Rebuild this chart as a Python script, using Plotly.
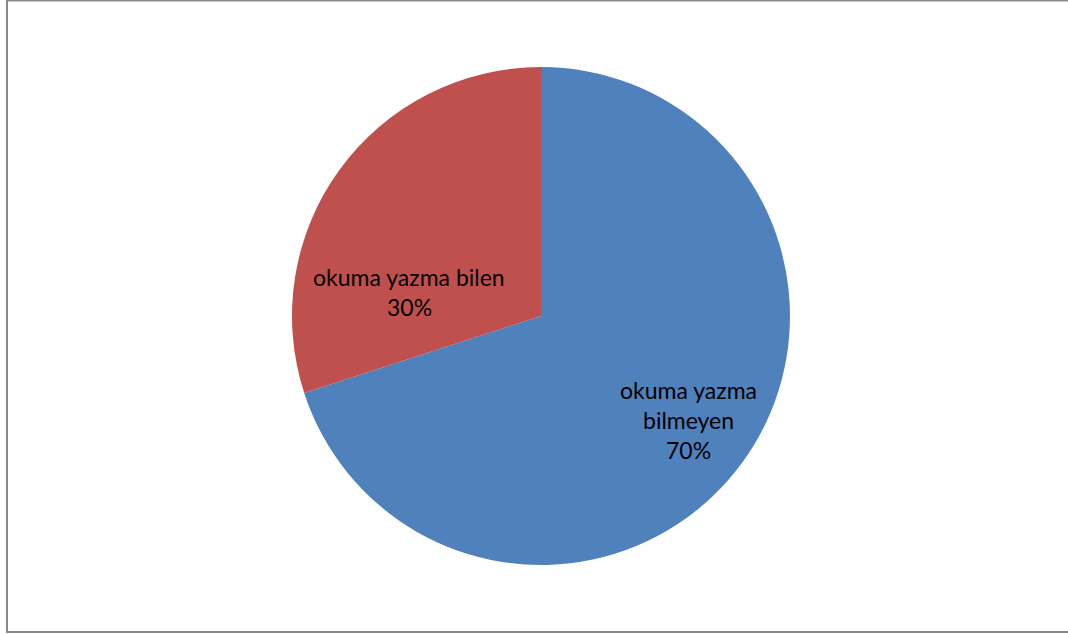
import plotly.graph_objects as go

# Literacy share
labels = ["okuma yazma bilmeyen", "okuma yazma bilen"]
values = [70, 30]
colors = ["#4F81BD", "#C0504D"]

# label lines per slice (wrapped as drawn) and their anchor centres in pixels
label_lines = [["okuma yazma", "bilmeyen"], ["okuma yazma bilen"]]
label_centres = [(688, 390), (409, 277)]
LINE_STEP = 30

W, H = 1068, 634
cx, cy, r = 541, 316, 249

fig = go.Figure(
    go.Pie(
        labels=labels,
        values=values,
        marker=dict(colors=colors, line=dict(width=0)),
        sort=False,
        direction="counterclockwise",
        rotation=0,
        textinfo="none",
        hoverinfo="label+percent",
        showlegend=False,
        domain=dict(x=[(cx - r) / W, (cx + r) / W], y=[1 - (cy + r) / H, 1 - (cy - r) / H]),
    )
)

total = sum(values)
annotations = []
for lines, v, (lx, ly) in zip(label_lines, values, label_centres):
    rows = lines + [f"{round(100 * v / total)}%"]
    for i, row in enumerate(rows):
        annotations.append(
            dict(
                x=lx / W,
                y=1 - (ly + i * LINE_STEP) / H,
                xref="paper",
                yref="paper",
                text=row,
                showarrow=False,
                xanchor="center",
                yanchor="middle",
                font=dict(family="Lato", size=23, color="#000000"),
            )
        )

fig.update_layout(
    width=W,
    height=H,
    margin=dict(l=0, r=0, t=0, b=0),
    paper_bgcolor="#FFFFFF",
    plot_bgcolor="#FFFFFF",
    annotations=annotations,
    shapes=[
        dict(
            type="rect",
            xref="paper",
            yref="paper",
            x0=7 / W,
            x1=1.01,
            y0=1 - 632 / H,
            y1=1 - 0.5 / H,
            line=dict(color="#898989", width=2),
            fillcolor="rgba(0,0,0,0)",
            layer="below",
        )
    ],
)

fig.write_html("out.html")
